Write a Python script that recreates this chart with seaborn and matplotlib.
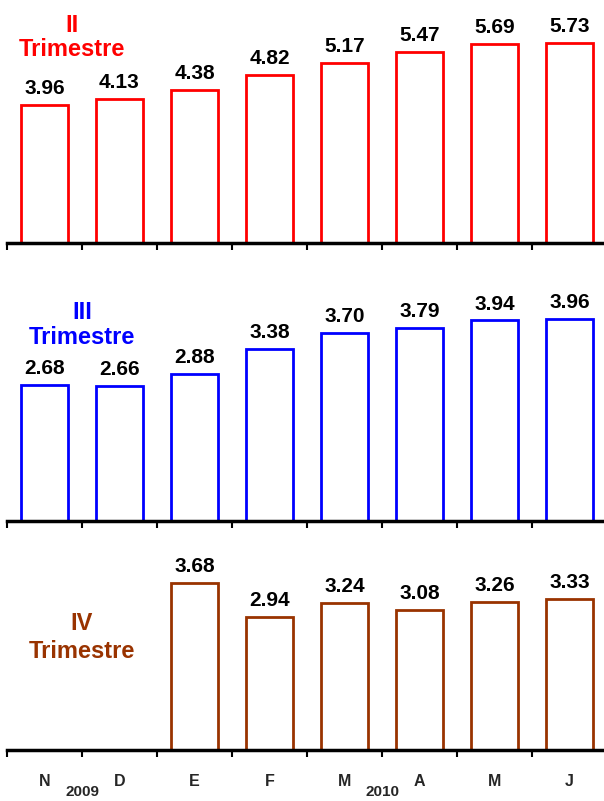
import numpy as np
import pandas as pd
import matplotlib
matplotlib.use("Agg")
import matplotlib.pyplot as plt
import seaborn as sns

sns.set_style("white")
plt.rcParams['font.family'] = ['Liberation Sans', 'DejaVu Sans']

# categorias (claves unicas) y etiquetas de meses
claves = ["N", "D", "E", "F", "Mz", "A", "My", "J"]
meses = ["N", "D", "E", "F", "M", "A", "M", "J"]

trim2 = [3.96, 4.13, 4.38, 4.82, 5.17, 5.47, 5.69, 5.73]
trim3 = [2.68, 2.66, 2.88, 3.38, 3.70, 3.79, 3.94, 3.96]
trim4 = [np.nan, np.nan, 3.68, 2.94, 3.24, 3.08, 3.26, 3.33]

paneles = [
    ("II", trim2, "#FF0000", 243, 10, 34.9, 72, 25, 50),
    ("III", trim3, "#0000FF", 521, 270, 50.9, 82, 312, 338),
    ("IV", trim4, "#993300", 750, 540, 45.4, 82, 623, 652),
]

W, H = 604, 801
fig = plt.figure(figsize=(W / 100, H / 100), dpi=100)

for i, (nombre, vals, color, y0, y1, escala, tx, ty1, ty2) in enumerate(paneles):
    ax = fig.add_axes([7 / W, 1 - y0 / H, 600 / W, (y0 - y1) / H])
    df = pd.DataFrame({"mes": claves, "valor": vals}).dropna()
    sns.barplot(data=df, x="mes", y="valor", order=claves, color=color,
                fill=False, linewidth=2, width=0.63, ax=ax)
    for c in ax.containers:
        ax.bar_label(c, fmt="%.2f", padding=5, fontsize=15, fontweight="bold",
                     color="black")
    ax.set_xlim(-0.5, 7.5)
    ax.set_ylim(0, (y0 - y1) / escala)
    ax.set_xlabel("")
    ax.set_ylabel("")
    ax.set_yticks([])
    for s in ["top", "right", "left"]:
        ax.spines[s].set_visible(False)
    ax.spines["bottom"].set_linewidth(2.5)
    ax.spines["bottom"].set_color("black")
    ax.set_xticks(np.arange(-0.5, 8.5, 1), minor=True)
    ax.tick_params(axis="x", which="minor", length=5, width=1.5, color="black",
                   direction="out", bottom=True)
    ax.set_xticks(range(len(meses)))
    if i == 2:
        ax.set_xticklabels(meses, fontsize=11.5, fontweight="bold")
        ax.tick_params(axis="x", which="major", length=0, pad=17)
    else:
        ax.set_xticklabels([])
        ax.tick_params(axis="x", which="major", length=0)

    fig.text(tx / W, 1 - ty1 / H, nombre, color=color, fontsize=17,
             fontweight="bold", ha="center", va="center")
    fig.text(tx / W, 1 - ty2 / H, "Trimestre", color=color, fontsize=17,
             fontweight="bold", ha="center", va="center")

fig.text(82 / W, 1 - 792 / H, "2009", fontsize=11, fontweight="bold",
         ha="center", va="center")
fig.text(383 / W, 1 - 792 / H, "2010", fontsize=11, fontweight="bold",
         ha="center", va="center")

fig.savefig("out.png", dpi=100)
